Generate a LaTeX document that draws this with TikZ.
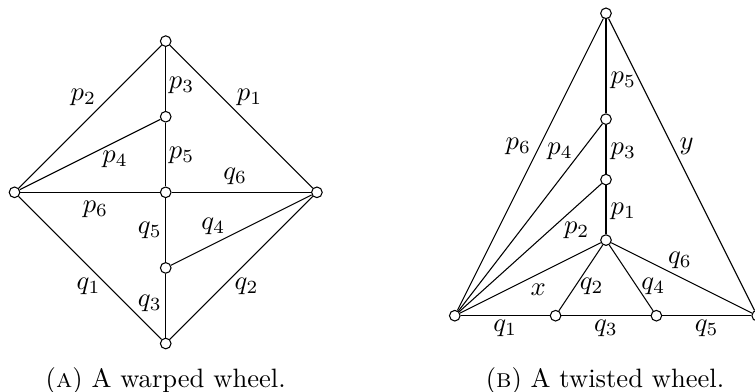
\documentclass[tikz,border=0pt]{standalone}
\begin{document}
\begin{tikzpicture}[
  vtx/.style={circle,draw,fill=white,inner sep=0pt,minimum size=4pt,line width=0.4pt},
  edge/.style={line width=0.4pt},
  lbl/.style={inner sep=0pt},
  captext/.style={anchor=base,inner sep=0pt}
]
\useasboundingbox (0,0) rectangle (9.987,5.185);
% ---------- (A) warped wheel ----------
\begin{scope}[shift={(2.192,2.641)}]
  \node[vtx] (aT) at (0,2) {};
  \node[vtx] (aU) at (0,1) {};
  \node[vtx] (aC) at (0,0) {};
  \node[vtx] (aD) at (0,-1) {};
  \node[vtx] (aB) at (0,-2) {};
  \node[vtx] (aL) at (-2,0) {};
  \node[vtx] (aR) at (2,0) {};
  \draw[edge] (aL) -- (aT);
  \draw[edge] (aT) -- (aR);
  \draw[edge] (aL) -- (aB);
  \draw[edge] (aB) -- (aR);
  \draw[edge] (aT) -- (aU);
  \draw[edge] (aU) -- (aC);
  \draw[edge] (aC) -- (aD);
  \draw[edge] (aD) -- (aB);
  \draw[edge] (aL) -- (aC);
  \draw[edge] (aC) -- (aR);
  \draw[edge] (aL) -- (aU);
  \draw[edge] (aR) -- (aD);
  \node[lbl] (lp2) at (-1.09,1.26) {$p_2$};
  \node[lbl] (lp1) at (1.11,1.26) {$p_1$};
  \node[lbl] (lp3) at (0.21,1.42) {$p_3$};
  \node[lbl] (lp5) at (0.21,0.49) {$p_5$};
  \node[lbl] (lp4) at (-0.67,0.43) {$p_4$};
  \node[lbl] (lq6) at (0.92,0.21) {$q_6$};
  \node[lbl] (lp6) at (-0.93,-0.23) {$p_6$};
  \node[lbl] (lq5) at (-0.21,-0.5) {$q_5$};
  \node[lbl] (lq4) at (0.63,-0.45) {$q_4$};
  \node[lbl] (lq1) at (-1.02,-1.25) {$q_1$};
  \node[lbl] (lq3) at (-0.21,-1.47) {$q_3$};
  \node[lbl] (lq2) at (1.07,-1.25) {$q_2$};
\end{scope}
% ---------- (B) twisted wheel ----------
\begin{scope}[shift={(8.016,1.009)}]
  \node[vtx] (bT) at (0,4) {};
  \node[vtx] (bU) at (0,2.6) {};
  \node[vtx] (bM) at (0,1.8) {};
  \node[vtx] (bC) at (0,1) {};
  \node[vtx] (bL) at (-2,0) {};
  \node[vtx] (b1) at (-0.6667,0) {};
  \node[vtx] (b2) at (0.6667,0) {};
  \node[vtx] (bR) at (2,0) {};
  \draw[edge] (bL) -- (bT);
  \draw[edge] (bT) -- (bR);
  \draw[edge] (bT) -- (bU);
  \draw[edge] (bU) -- (bM);
  \draw[edge] (bM) -- (bC);
  \draw[edge] (bL) -- (bU);
  \draw[edge] (bL) -- (bM);
  \draw[edge] (bL) -- (bC);
  \draw[edge] (bC) -- (b1);
  \draw[edge] (bC) -- (b2);
  \draw[edge] (bC) -- (bR);
  \draw[edge] (bL) -- (b1);
  \draw[edge] (b1) -- (b2);
  \draw[edge] (b2) -- (bR);
  \node[lbl] (mp5) at (0.229,3.118) {$p_5$};
  \node[lbl] (mp6) at (-1.16,2.235) {$p_6$};
  \node[lbl] (mp4) at (-0.608,2.169) {$p_4$};
  \node[lbl] (mp3) at (0.229,2.169) {$p_3$};
  \node[lbl] (my) at (1.067,2.235) {$y$};
  \node[lbl] (mp1) at (0.229,1.376) {$p_1$};
  \node[lbl] (mp2) at (-0.388,1.134) {$p_2$};
  \node[lbl] (mq6) at (0.979,0.737) {$q_6$};
  \node[lbl] (mx) at (-0.896,0.340) {$x$};
  \node[lbl] (mq2) at (-0.189,0.384) {$q_2$};
  \node[lbl] (mq4) at (0.626,0.384) {$q_4$};
  \node[lbl] (mq1) at (-1.333,-0.163) {$q_1$};
  \node[lbl] (mq3) at (0,-0.163) {$q_3$};
  \node[lbl] (mq5) at (1.333,-0.163) {$q_5$};
\end{scope}
% ---------- captions ----------
\node[captext] (capA) at (2.192,0.06) {(\textsc{a}) A warped wheel.};
\node[captext] (capB) at (8.003,0.06) {(\textsc{b}) A twisted wheel.};
\end{tikzpicture}
\end{document}
